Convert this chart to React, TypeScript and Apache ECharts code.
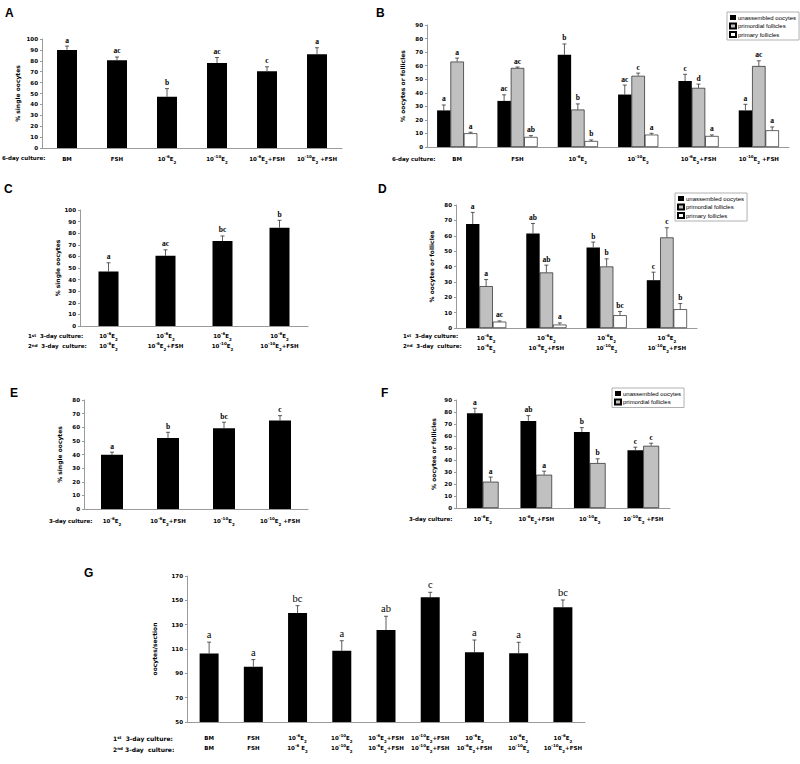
import React, { useEffect, useRef } from 'react';
import * as echarts from 'echarts';

// ---------- DATA ----------
const catsA = ['BM', 'FSH', '10{sup|-6}E{sub|2}', '10{sup|-10}E{sub|2}', '10{sup|-6}E{sub|2}+FSH', '10{sup|-10}E{sub|2} +FSH'];
const meanA = [90, 80.5, 47, 78, 70.5, 86];
const semA = [3.5, 3, 7.5, 5, 4, 6];
const letA = ['a', 'ac', 'b', 'ac', 'c', 'a'];

const catsB = ['BM', 'FSH', '10{sup|-6}E{sub|2}', '10{sup|-10}E{sub|2}', '10{sup|-6}E{sub|2}+FSH', '10{sup|-10}E{sub|2} +FSH'];
const unassB = [27, 34, 68, 38.7, 48.6, 27];
const unassSemB = [4, 4.5, 8, 7, 5, 4.5];
const unassLetB = ['a', 'ac', 'b', 'ac', 'c', 'a'];
const primordB = [63, 58.3, 27.6, 52.5, 43.6, 59.7];
const primordSemB = [2.6, 0.7, 4.2, 2, 2.8, 3.9];
const primordLetB = ['a', 'ac', 'b', 'c', 'd', 'ac'];
const primaryB = [10.1, 7.4, 4.4, 9.1, 8.1, 12.3];
const primarySemB = [0.8, 1, 0.8, 1, 0.8, 2.5];
const primaryLetB = ['a', 'ab', 'b', 'a', 'a', 'a'];

const cats1C = ['10{sup|-6}E{sub|2}', '10{sup|-6}E{sub|2}', '10{sup|-6}E{sub|2}', '10{sup|-6}E{sub|2}'];
const cats2C = ['10{sup|-6}E{sub|2}', '10{sup|-6}E{sub|2}+FSH', '10{sup|-10}E{sub|2}', '10{sup|-10}E{sub|2}+FSH'];
const meanC = [47, 60.5, 73.3, 84.8];
const semC = [7.5, 5.2, 4.3, 6.3];
const letC = ['a', 'ac', 'bc', 'b'];

const cats1D = ['10{sup|-6}E{sub|2}', '10{sup|-6}E{sub|2}', '10{sup|-6}E{sub|2}', '10{sup|-6}E{sub|2}'];
const cats2D = ['10{sup|-6}E{sub|2}', '10{sup|-6}E{sub|2}+FSH', '10{sup|-10}E{sub|2}', '10{sup|-10}E{sub|2}+FSH'];
const unassD = [67.6, 61.5, 52.4, 31.1];
const unassSemD = [7.6, 6.5, 3.5, 5.2];
const unassLetD = ['a', 'ab', 'b', 'c'];
const primordD = [27.2, 36.1, 40, 58.9];
const primordSemD = [4.3, 4.8, 5, 6.3];
const primordLetD = ['a', 'ab', 'b', 'c'];
const primaryD = [4.1, 2.2, 8.3, 12.2];
const primarySemD = [0.5, 1.1, 2.4, 3.7];
const primaryLetD = ['ac', 'a', 'bc', 'b'];

const catsE = ['10{sup|-6}E{sub|2}', '10{sup|-6}E{sub|2}+FSH', '10{sup|-10}E{sub|2}', '10{sup|-10}E{sub|2} +FSH'];
const meanE = [39.8, 52.2, 59.3, 64.9];
const semE = [1.9, 4.1, 4.4, 3.6];
const letE = ['a', 'b', 'bc', 'c'];

const catsF = ['10{sup|-6}E{sub|2}', '10{sup|-6}E{sub|2}+FSH', '10{sup|-10}E{sub|2}', '10{sup|-10}E{sub|2} +FSH'];
const unassF = [78.9, 72.6, 63.4, 48.2];
const unassSemF = [4.2, 4.4, 3.6, 2.5];
const unassLetF = ['a', 'ab', 'b', 'c'];
const primordF = [21.9, 27.7, 37.4, 51.8];
const primordSemF = [3.9, 3, 3.6, 2.2];
const primordLetF = ['a', 'a', 'b', 'c'];

const cats1G = ['BM', 'FSH', '10{sup|-6}E{sub|2}', '10{sup|-10}E{sub|2}', '10{sup|-6}E{sub|2}+FSH', '10{sup|-10}E{sub|2}+FSH', '10{sup|-6}E{sub|2}', '10{sup|-6}E{sub|2}', '10{sup|-6}E{sub|2}'];
const cats2G = ['BM', 'FSH', '10{sup|-6} E{sub|2}', '10{sup|-10}E{sub|2}', '10{sup|-6}E{sub|2}+FSH', '10{sup|-10}E{sub|2}+FSH', '10{sup|-6}E{sub|2}+FSH', '10{sup|-10}E{sub|2}', '10{sup|-10}E{sub|2}+FSH'];
const meanG = [106.3, 95.5, 139.6, 108.6, 125.6, 152.5, 107.3, 106.5, 144.3];
const semG = [9.3, 5.8, 6, 8.2, 11.3, 4.1, 10.1, 9, 6];
const letG = ['a', 'a', 'bc', 'a', 'ab', 'c', 'a', 'a', 'bc'];

const ticksA = { min: 0, max: 100, interval: 10 };
const ticksB = { min: 0, max: 90, interval: 10 };
const ticksC = { min: 0, max: 100, interval: 10 };
const ticksD = { min: 0, max: 80, interval: 10 };
const ticksE = { min: 0, max: 80, interval: 10 };
const ticksF = { min: 0, max: 90, interval: 10 };
const ticksG = { min: 50, max: 170, interval: 20 };

const seriesNames = ['unassembled oocytes', 'primordial follicles', 'primary follicles'];

// ---------- STYLE ----------
const SANS = 'DejaVu Sans';
const SERIF = 'Liberation Serif';
const ARIAL = 'Liberation Sans';
const AX = '#9a9a9a';
const FILLS = ['#000000', '#c0c0c0', '#ffffff'];

const rich = {
  sup: { fontSize: 4, fontWeight: 'bold', fontFamily: SANS, color: '#000', verticalAlign: 'top' },
  sub: { fontSize: 4, fontWeight: 'bold', fontFamily: SANS, color: '#000', verticalAlign: 'bottom' },
};

function xAxisDef(gi: number, data: string[], margin: number) {
  return {
    type: 'category', gridIndex: gi, data,
    axisLine: { show: true, lineStyle: { color: AX, width: 1 } },
    axisTick: { show: false },
    axisLabel: { interval: 0, margin, fontSize: 5.5, fontWeight: 'bold', fontFamily: SANS, color: '#000', lineHeight: 10, rich },
  };
}

function yAxisDef(gi: number, t: any, name: string, nameGap: number) {
  return {
    type: 'value', gridIndex: gi, min: t.min, max: t.max, interval: t.interval,
    splitLine: { show: false },
    axisLine: { show: true, lineStyle: { color: AX, width: 1 } },
    axisTick: { show: true, length: 2, lineStyle: { color: AX } },
    axisLabel: { margin: 4, fontSize: 5.5, fontWeight: 'bold', fontFamily: SANS, color: '#000' },
    name, nameLocation: 'middle', nameGap, nameRotate: 90,
    nameTextStyle: { fontSize: 6, fontWeight: 'bold', fontFamily: SANS, color: '#000' },
  };
}

function barSeries(gi: number, name: string, data: number[], width: number, k: number) {
  return {
    type: 'bar', name, xAxisIndex: gi, yAxisIndex: gi, data, barWidth: width, barGap: '0%',
    itemStyle: { color: FILLS[k], borderColor: '#000', borderWidth: k === 0 ? 0 : 0.6 },
    silent: true, z: 2,
  };
}

function errSeries(gi: number, means: number[], sems: number[], letters: string[], offset: number, serifBold: boolean) {
  return {
    type: 'custom', xAxisIndex: gi, yAxisIndex: gi, silent: true, z: 5,
    itemStyle: { color: '#000' },
    data: means.map((m, i) => [i, m, m + sems[i]]),
    encode: { x: 0, y: [1, 2] },
    renderItem: (params: any, api: any) => {
      const i = api.value(0);
      const p0 = api.coord([i, api.value(1)]);
      const p1 = api.coord([i, api.value(2)]);
      const x = p0[0] + offset;
      return {
        type: 'group',
        children: [
          { type: 'line', shape: { x1: x, y1: p0[1], x2: x, y2: p1[1] }, style: { stroke: '#333', lineWidth: 0.8 } },
          { type: 'line', shape: { x1: x - 2, y1: p1[1], x2: x + 2, y2: p1[1] }, style: { stroke: '#333', lineWidth: 0.8 } },
          {
            type: 'text', x, y: p1[1] - 2,
            style: {
              text: letters[params.dataIndex], fill: '#000', align: 'center', verticalAlign: 'bottom',
              fontFamily: SERIF, fontWeight: serifBold ? 'bold' : 'normal', fontSize: serifBold ? 7.5 : 10.5,
            },
          },
        ],
      };
    },
  };
}

function gtext(x: number, y: number, text: string, size = 5.5, family = SANS, weight = 'bold', align = 'left') {
  return {
    type: 'text', x, y, silent: true, z: 10,
    style: { text, fill: '#000', fontSize: size, fontFamily: family, fontWeight: weight, align, verticalAlign: 'middle', rich },
  };
}

function legendDef(names: string[], left: number, top: number) {
  return {
    data: names, left, top, orient: 'vertical', icon: 'rect', itemWidth: 6, itemHeight: 5, itemGap: 1.5,
    backgroundColor: '#fff', borderColor: '#b0b0b0', borderWidth: 1, padding: [2, 3, 2, 2], selectedMode: false,
    textStyle: { fontSize: 6, fontFamily: ARIAL, color: '#000', lineHeight: 7, padding: [0, 0, 0, -3] },
  };
}

export default function App() {
  const ref = useRef<HTMLDivElement>(null);
  useEffect(() => {
    if (!ref.current) return;
    const chart = echarts.init(ref.current, undefined, { renderer: 'svg' });
    const two = (a: string[], b: string[]) => a.map((s, i) => s + '\n' + b[i]);
    const wB = 13.4, wD = 13.4, wF = 15.8;
    const option: any = {
      animation: false,
      backgroundColor: '#fff',
      grid: [
        { left: 42, top: 39, width: 300, height: 109 },
        { left: 427, top: 25, width: 362, height: 122 },
        { left: 80, top: 210, width: 228, height: 116 },
        { left: 456, top: 205, width: 241, height: 123 },
        { left: 84, top: 400, width: 224, height: 109 },
        { left: 456, top: 400, width: 214, height: 108 },
        { left: 187, top: 576, width: 398, height: 146 },
      ],
      xAxis: [
        xAxisDef(0, catsA, 6),
        xAxisDef(1, catsB, 7),
        xAxisDef(2, two(cats1C, cats2C), 5),
        xAxisDef(3, two(cats1D, cats2D), 5),
        xAxisDef(4, catsE, 7),
        xAxisDef(5, catsF, 6),
        xAxisDef(6, two(cats1G, cats2G), 11),
      ],
      yAxis: [
        yAxisDef(0, ticksA, '% single oocytes', 22),
        yAxisDef(1, ticksB, '% oocytes or follicles', 22),
        yAxisDef(2, ticksC, '% single oocytes', 18),
        yAxisDef(3, ticksD, '% oocytes or follicles', 22),
        yAxisDef(4, ticksE, '% single oocytes', 22),
        yAxisDef(5, ticksF, '% oocytes or follicles', 20),
        yAxisDef(6, ticksG, 'oocytes/section', 30),
      ],
      legend: [
        legendDef(seriesNames, 727, 12),
        legendDef(seriesNames, 675, 193),
        legendDef(seriesNames.slice(0, 2), 612, 388),
      ],
      series: [
        barSeries(0, 'A', meanA, 20, 0),
        errSeries(0, meanA, semA, letA, 0, true),

        barSeries(1, seriesNames[0], unassB, wB, 0),
        barSeries(1, seriesNames[1], primordB, wB, 1),
        barSeries(1, seriesNames[2], primaryB, wB, 2),
        errSeries(1, unassB, unassSemB, unassLetB, -wB, true),
        errSeries(1, primordB, primordSemB, primordLetB, 0, true),
        errSeries(1, primaryB, primarySemB, primaryLetB, wB, true),

        barSeries(2, 'C', meanC, 20, 0),
        errSeries(2, meanC, semC, letC, 0, true),

        barSeries(3, seriesNames[0], unassD, wD, 0),
        barSeries(3, seriesNames[1], primordD, wD, 1),
        barSeries(3, seriesNames[2], primaryD, wD, 2),
        errSeries(3, unassD, unassSemD, unassLetD, -wD, true),
        errSeries(3, primordD, primordSemD, primordLetD, 0, true),
        errSeries(3, primaryD, primarySemD, primaryLetD, wD, true),

        barSeries(4, 'E', meanE, 22, 0),
        errSeries(4, meanE, semE, letE, 0, true),

        barSeries(5, seriesNames[0], unassF, wF, 0),
        barSeries(5, seriesNames[1], primordF, wF, 1),
        errSeries(5, unassF, unassSemF, unassLetF, -wF / 2, true),
        errSeries(5, primordF, primordSemF, primordLetF, wF / 2, true),

        barSeries(6, 'G', meanG, 19, 0),
        errSeries(6, meanG, semG, letG, 0, false),
      ],
      graphic: [
        gtext(5, 13, 'A', 12, ARIAL),
        gtext(376, 13, 'B', 12, ARIAL),
        gtext(4, 189, 'C', 12, ARIAL),
        gtext(378, 189, 'D', 12, ARIAL),
        gtext(10, 393, 'E', 12, ARIAL),
        gtext(381, 393, 'F', 12, ARIAL),
        gtext(84, 573, 'G', 12, ARIAL),
        gtext(2, 158, '6-day culture:'),
        gtext(392, 159, '6-day culture:'),
        gtext(28, 336, '1{sup|st}  3-day culture:'),
        gtext(28, 346, '2{sup|nd}  3-day  culture:'),
        gtext(403, 336, '1{sup|st}  3-day culture:'),
        gtext(403, 346, '2{sup|nd}  3-day  culture:'),
        gtext(49, 521, '3-day culture:'),
        gtext(409, 519, '3-day culture:'),
        gtext(113, 738, '1{sup|st}  3-day culture:', 6),
        gtext(113, 749, '2{sup|nd} 3-day  culture:', 6),
      ],
    };
    chart.setOption(option);
    return () => chart.dispose();
  }, []);
  return <div ref={ref} style={{ position: 'absolute', left: 0, top: 0, width: 800, height: 764 }} />;
}
